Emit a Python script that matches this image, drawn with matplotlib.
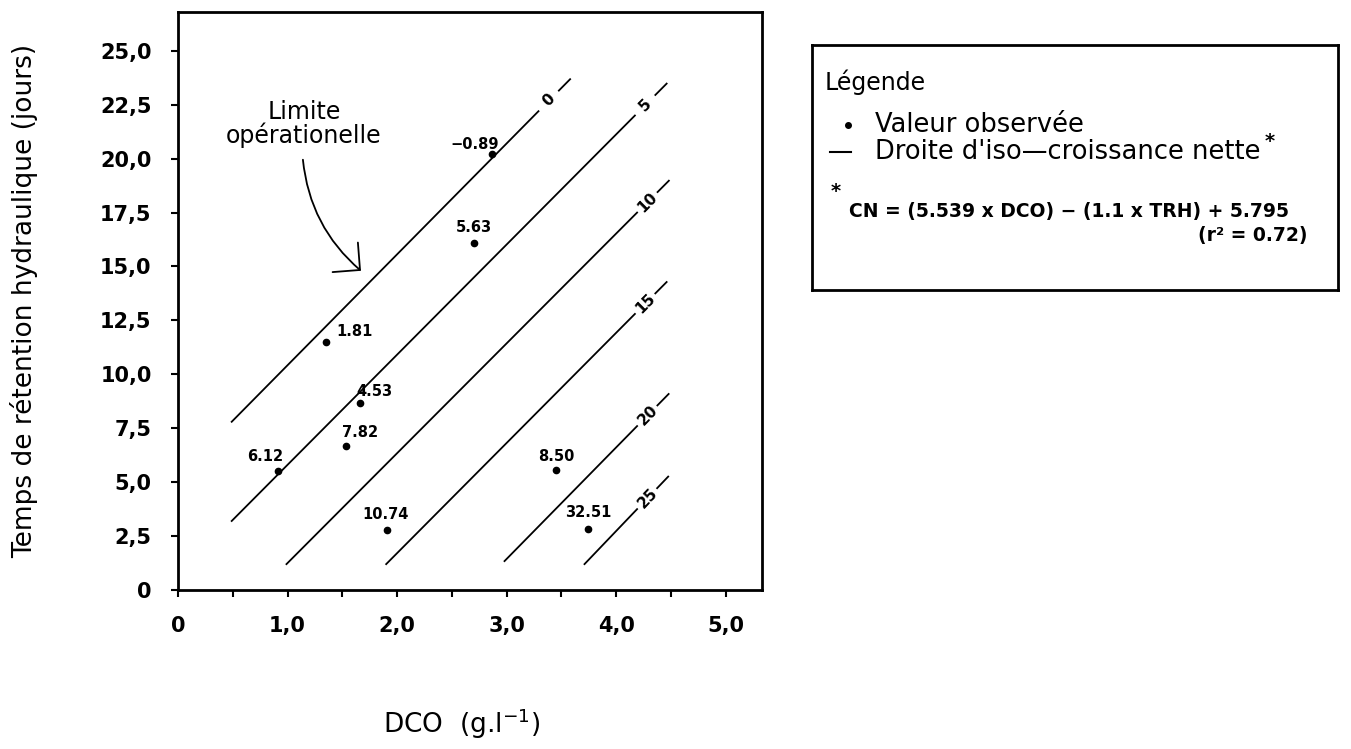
import numpy as np
import matplotlib
matplotlib.use('Agg')
import matplotlib.pyplot as plt

plt.rcParams['font.family'] = ['DejaVu Sans']

# Valeurs observées : DCO (g/l), TRH (jours), croissance nette
dco_obs = [2.87, 2.70, 1.35, 1.66, 1.53, 0.91, 1.91, 3.45, 3.74]
trh_obs = [20.2, 16.1, 11.5, 8.66, 6.7, 5.5, 2.78, 5.56, 2.82]
cn_obs = ['\u22120.89', '5.63', '1.81', '4.53', '7.82', '6.12', '10.74', '8.50', '32.51']

# Droites d'iso-croissance nette (extremites)
iso_cn = ['0', '5', '10', '15', '20', '25']
iso_x0 = [0.49, 0.49, 0.99, 1.90, 2.98, 3.71]
iso_y0 = [7.8, 3.2, 1.2, 1.2, 1.34, 1.2]
iso_x1 = [3.29, 4.17, 4.19, 4.17, 4.19, 4.19]
iso_y1 = [22.2, 22.0, 17.5, 12.8, 7.6, 3.75]

xticks = [0, 1, 2, 3, 4, 5]
xticklabels = ['0', '1,0', '2,0', '3,0', '4,0', '5,0']
yticks = [0, 2.5, 5, 7.5, 10, 12.5, 15, 17.5, 20, 22.5, 25]
yticklabels = ['0', '2,5', '5,0', '7,5', '10,0', '12,5', '15,0', '17,5', '20,0', '22,5', '25,0']

# position des etiquettes des points (decalage en pixels, alignement)
lab_pos = [(6, 10, 'right'), (0, 15, 'center'), (10, 10, 'left'),
           (-4, 12, 'left'), (-4, 13, 'left'), (6, 15, 'right'),
           (-2, 16, 'center'), (0, 14, 'center'), (0, 17, 'center')]

W, H = 1351, 749
fig = plt.figure(figsize=(W / 100, H / 100), dpi=100)
ax = fig.add_axes([178 / W, 1 - 590 / H, 584 / W, 578 / H])
ax.set_xlim(0, 5.33)
ax.set_ylim(0, 26.8)

for s in ax.spines.values():
    s.set_linewidth(2)

ax.set_xticks(xticks)
ax.set_xticklabels(xticklabels)
ax.set_xticks(np.arange(0.5, 5.0, 1.0), minor=True)
ax.set_yticks(yticks)
ax.set_yticklabels(yticklabels)
ax.tick_params(which='both', direction='out', length=5, width=1.5)
ax.tick_params(axis='both', which='major', pad=14, labelsize=15)
for t in ax.get_xticklabels() + ax.get_yticklabels():
    t.set_fontweight('bold')

ax.set_xlabel('DCO  (g.l$^{-1}$)', fontsize=19)
ax.xaxis.set_label_coords(0.486, -0.202)
ax.set_ylabel('Temps de rétention hydraulique (jours)', fontsize=19)
ax.yaxis.set_label_coords(-0.24, 0.5)

# droites + etiquettes
inv = ax.transData.inverted()
for lab, x0, y0, x1, y1 in zip(iso_cn, iso_x0, iso_y0, iso_x1, iso_y1):
    ax.plot([x0, x1], [y0, y1], color='black', lw=1.3)
    p0 = ax.transData.transform((x0, y0))
    p1 = ax.transData.transform((x1, y1))
    d = (p1 - p0) / np.hypot(*(p1 - p0))
    ang = np.degrees(np.arctan2(d[1], d[0]))
    lx, ly = inv.transform(p1 + 15 * d)
    ax.text(lx, ly, lab, rotation=ang, rotation_mode='anchor', ha='center', va='center',
            fontsize=11, fontweight='bold')
    t0 = inv.transform(p1 + 29 * d)
    t1 = inv.transform(p1 + 45 * d)
    ax.plot([t0[0], t1[0]], [t0[1], t1[1]], color='black', lw=1.3)

# points observes
ax.plot(dco_obs, trh_obs, 'o', color='black', ms=4.5)
for x, y, txt, (dx, dy, ha) in zip(dco_obs, trh_obs, cn_obs, lab_pos):
    ax.annotate(txt, (x, y), xytext=(dx, dy), textcoords='offset pixels',
                ha=ha, va='center', fontsize=10.5, fontweight='bold')

# limite operationelle
ax.text(1.15, 21.6, 'Limite\nopérationelle', ha='center', va='center', fontsize=17,
        linespacing=0.95)
ax.annotate('', xy=(1.67, 14.8), xytext=(1.14, 19.95),
            arrowprops=dict(arrowstyle='->,head_length=0.7,head_width=0.7',
                            connectionstyle='arc3,rad=0.2', color='black', lw=1.3,
                            shrinkA=0, shrinkB=0, mutation_scale=20))

# boite de legende
lax = fig.add_axes([812 / W, 1 - 290 / H, (1338 - 812) / W, (290 - 45) / H])
lax.set_xlim(812, 1338)
lax.set_ylim(290, 45)
lax.set_xticks([])
lax.set_yticks([])
for s in lax.spines.values():
    s.set_linewidth(2)

lax.text(825, 82, 'Légende', va='center', ha='left', fontsize=17)
lax.plot(848, 125, 'o', color='black', ms=4)
lax.text(875, 125, 'Valeur observée', va='center', ha='left', fontsize=18.5)
lax.plot([830, 851], [152, 152], color='black', lw=1.5)
droite = lax.text(875, 152, "Droite d'iso\u2014croissance nette", va='center', ha='left',
                  fontsize=18.5)
lax.annotate('*', xy=(1, 1), xycoords=droite, xytext=(4, -2), textcoords='offset pixels',
             ha='left', va='center', fontsize=14, fontweight='bold')
lax.text(836, 192, '*', ha='center', va='center', fontsize=14, fontweight='bold')
lax.text(849, 212, 'CN = (5.539 x DCO) \u2212 (1.1 x TRH) + 5.795', va='center', ha='left',
         fontsize=13.5, fontweight='bold')
lax.text(1308, 236, '(r² = 0.72)', va='center', ha='right', fontsize=13.5, fontweight='bold')

fig.savefig('out.png', dpi=100)
